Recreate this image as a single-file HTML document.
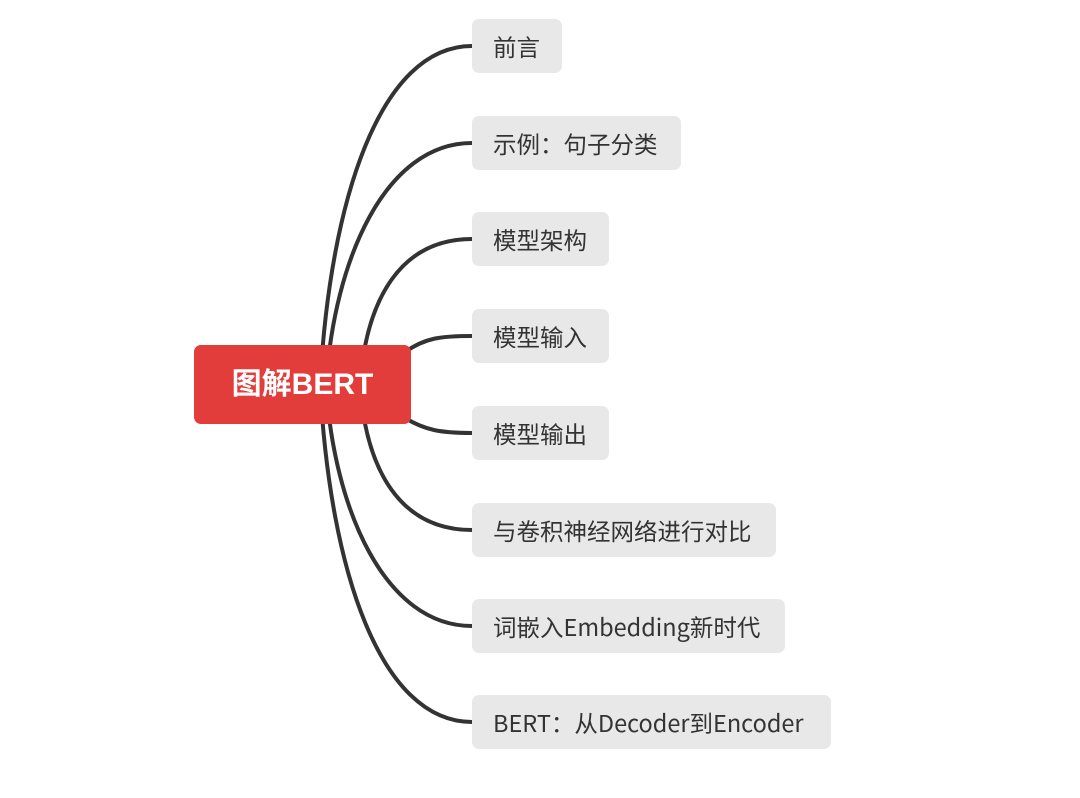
<!DOCTYPE html>
<html><head><meta charset="utf-8"><style>
body{margin:0;width:1080px;height:798px;background:#fff;position:relative;overflow:hidden;font-family:"Liberation Sans","Noto Sans CJK SC",sans-serif}
.b{position:absolute;left:472px;height:54px;background:#e8e8e8;border-radius:7px;color:#333;font-size:23.5px;line-height:54px;padding-left:21px;box-sizing:border-box;font-family:"Noto Sans CJK SC",sans-serif;white-space:nowrap}
.r{position:absolute;left:194px;top:345px;width:217px;height:79px;background:#e23d3b;border-radius:7px;color:#fff;font-size:30px;font-weight:bold;line-height:79px;text-align:center}
svg{position:absolute;left:0;top:0}
</style></head><body>
<svg width="1080" height="798"><g fill="none" stroke="#333" stroke-width="4">
<path d="M320 385 C330 200 380 46 472 46"/>
<path d="M326 385 C334 260 385 143 472 143"/>
<path d="M360 385 C366 300 400 239 472 239"/>
<path d="M405 352 C425 338 440 336 472 336"/>
<path d="M405 418 C425 430 440 433 472 433"/>
<path d="M360 385 C366 470 400 530 472 530"/>
<path d="M326 385 C334 510 385 626 472 626"/>
<path d="M320 385 C330 570 380 722 472 722"/>
</g></svg>
<div class="r">图解BERT</div>
<div class="b" style="top:19px;width:90px">前言</div>
<div class="b" style="top:116px;width:209px">示例：句子分类</div>
<div class="b" style="top:212px;width:137px">模型架构</div>
<div class="b" style="top:309px;width:137px">模型输入</div>
<div class="b" style="top:406px;width:137px">模型输出</div>
<div class="b" style="top:503px;width:304px">与卷积神经网络进行对比</div>
<div class="b" style="top:599px;width:313px">词嵌入Embedding新时代</div>
<div class="b" style="top:695px;width:359px">BERT：从Decoder到Encoder</div>
</body></html>
